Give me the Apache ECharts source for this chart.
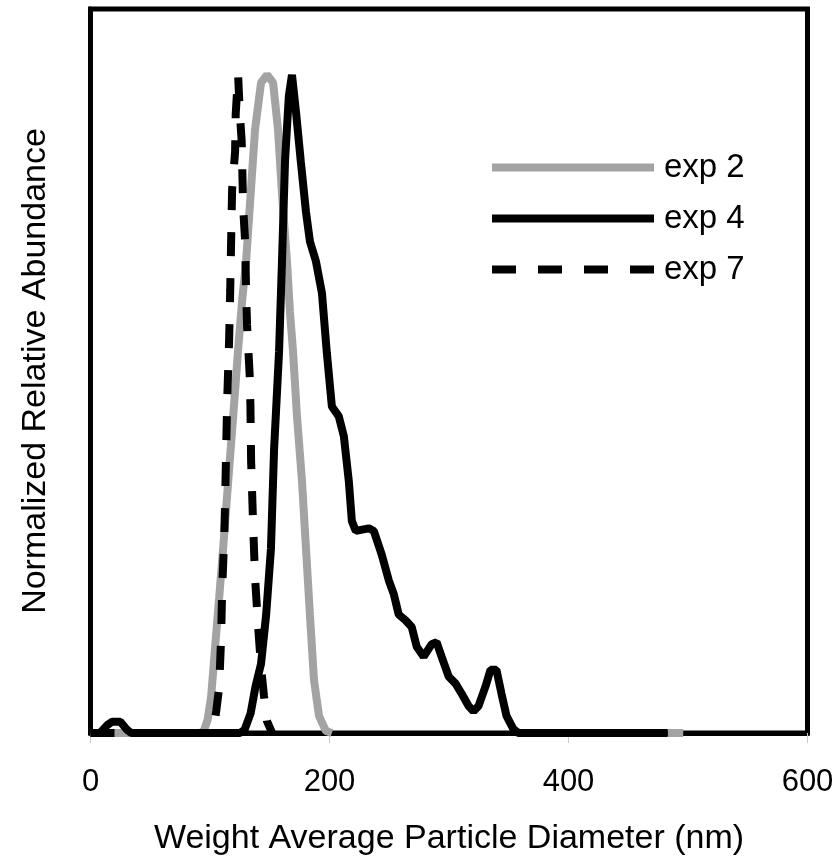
<!DOCTYPE html>
<html>
<head>
<meta charset="utf-8">
<script src="https://cdn.jsdelivr.net/npm/echarts@6/dist/echarts.min.js"></script>
<style>
html,body{margin:0;padding:0;background:#fff;}
#chart{width:840px;height:861px;}
</style>
</head>
<body>
<div id="chart"></div>
<script>
// [diameter (nm), normalized abundance]
var exp2Data = [[0,0],[92,0],[95,0.004],[98,0.02],[101,0.056],[104.3,0.131],[107.7,0.206],[111,0.281],[115.2,0.382],[119.4,0.481],[123.5,0.582],[126.9,0.657],[130.2,0.717],[133.6,0.808],[137.7,0.917],[142.7,0.988],[147.7,1.0],[152.8,0.988],[156.9,0.917],[160.3,0.818],[164.4,0.717],[166.9,0.64],[169.4,0.582],[172.8,0.481],[177,0.382],[180.3,0.281],[183.6,0.18],[187,0.081],[191.2,0.026],[197,0.003],[202,0],[203,null],[483,0],[496,0]];
var exp4Data = [[0,0],[8,0],[14,0.012],[18,0.017],[25,0.017],[30,0.006],[34,0],[125,0],[129,0.005],[134,0.03],[138,0.07],[142.7,0.105],[147,0.18],[151,0.28],[153.6,0.43],[157.8,0.58],[160.3,0.72],[162.8,0.87],[166,0.968],[168.6,1.0],[172,0.943],[176,0.868],[180.3,0.792],[183.6,0.747],[188.6,0.717],[193.7,0.668],[197.8,0.577],[202,0.496],[207.8,0.481],[212,0.451],[216.2,0.382],[218.7,0.322],[222,0.307],[232.9,0.311],[237.1,0.307],[243.7,0.271],[249.6,0.232],[253.8,0.211],[257.9,0.18],[263.8,0.171],[268.8,0.161],[273,0.131],[278.8,0.116],[285.5,0.135],[289.6,0.138],[293.8,0.116],[299.7,0.086],[305.5,0.075],[310.5,0.06],[316.4,0.041],[320.5,0.033],[324.7,0.041],[330.6,0.071],[334.7,0.096],[339.7,0.096],[343.9,0.06],[348.1,0.026],[353.9,0.006],[358.1,0],[483,0]];
var exp7Data = [[0,0],[99,0],[103,0.006],[105.2,0.033],[107.7,0.07],[109.3,0.145],[110.2,0.22],[111.9,0.296],[112.7,0.356],[113.5,0.43],[114.4,0.507],[116,0.597],[116.9,0.672],[117.7,0.75],[118.5,0.826],[121,0.883],[121.5,0.94],[123.5,1.0],[125,0.94],[126.5,0.9],[127.7,0.8],[129.4,0.747],[130.2,0.672],[131,0.62],[133.2,0.544],[133.8,0.5],[134.4,0.414],[136.1,0.316],[137.7,0.236],[140.2,0.164],[142.7,0.1],[145.2,0.056],[147.7,0.018],[152,0]];
var xTicks = [0, 200, 400, 600];
var seriesNames = ['exp 2', 'exp 4', 'exp 7'];

var FONT = "'Liberation Sans', Arial, Helvetica, sans-serif";
var LW = 8;
var chart = echarts.init(document.getElementById('chart'), null, {renderer: 'canvas'});
chart.setOption({
  animation: false,
  backgroundColor: '#fff',
  grid: {left: 90.5, right: 32.5, top: 9, bottom: 123.5, show: true, borderColor: '#000', borderWidth: 5, backgroundColor: 'transparent'},
  legend: {
    data: seriesNames,
    left: 483, top: 146,
    orient: 'vertical',
    itemWidth: 162, itemHeight: 8, itemGap: 18,
    lineStyle: {width: LW},
    itemStyle: {opacity: 0},
    textStyle: {fontFamily: FONT, fontSize: 33, color: '#000', lineHeight: 33, padding: [0,0,0,5]},
    selectedMode: false
  },
  xAxis: {
    type: 'value', min: xTicks[0], max: xTicks[xTicks.length-1], interval: 200,
    name: 'Weight Average Particle Diameter (nm)', nameLocation: 'middle', nameGap: 89,
    nameTextStyle: {fontFamily: FONT, fontSize: 34, color: '#000'},
    axisLine: {show: true, lineStyle: {color: '#000', width: 5}},
    axisTick: {show: true, length: 10, lineStyle: {color: '#ccc', width: 1}},
    axisLabel: {fontFamily: FONT, fontSize: 31, color: '#000', margin: 34},
    splitLine: {show: false}
  },
  yAxis: {
    type: 'value', min: 0, max: 1.1,
    name: 'Normalized Relative Abundance', nameLocation: 'middle', nameGap: 38, nameRotate: 90,
    nameTextStyle: {fontFamily: FONT, fontSize: 34, color: '#000'},
    axisLine: {show: true, lineStyle: {color: '#000', width: 5}},
    axisTick: {show: false}, axisLabel: {show: false}, splitLine: {show: false}
  },
  series: [
    {name: seriesNames[0], type: 'line', data: exp2Data, connectNulls: false, showSymbol: false, symbol: 'none', lineStyle: {color: '#a3a3a3', width: LW}, itemStyle: {color: '#a3a3a3'}},
    {name: seriesNames[1], type: 'line', data: exp4Data, showSymbol: false, symbol: 'none', lineStyle: {color: '#000', width: LW}, itemStyle: {color: '#000'}},
    {name: seriesNames[2], type: 'line', data: exp7Data, showSymbol: false, symbol: 'none', lineStyle: {color: '#000', width: LW, type: [24, 22]}, itemStyle: {color: '#000'}}
  ]
});
</script>
</body>
</html>
